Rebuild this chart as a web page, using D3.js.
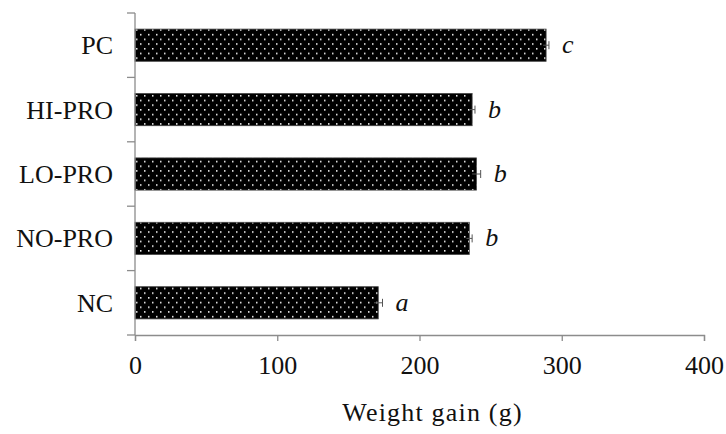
<!DOCTYPE html>
<html>
<head>
<meta charset="utf-8">
<script src="https://cdn.jsdelivr.net/npm/d3@7/dist/d3.min.js"></script>
<style>
  html, body { margin: 0; padding: 0; background: #fff; }
  svg { display: block; font-family: "Liberation Serif", "Times New Roman", serif; }
</style>
</head>
<body>
<svg id="chart" width="726" height="434"></svg>
<script>
// Treatment groups, top to bottom
const groups = ["PC", "HI-PRO", "LO-PRO", "NO-PRO", "NC"];
// Mean weight gain (g)
const gain = [289, 237, 240, 235, 171];
// Standard error of the mean (g)
const sem = [2, 2, 3, 2, 3];
// Significance letters
const letters = ["c", "b", "b", "b", "a"];
// X axis ticks
const xTicks = [0, 100, 200, 300, 400];

const svg = d3.select("#chart");
const plotLeft = 135, plotRight = 704, plotTop = 13, plotBottom = 335;

const x = d3.scaleLinear().domain([0, 400]).range([plotLeft, plotRight]);
const y = d3.scaleBand().domain(groups).range([plotTop, plotBottom]).paddingInner(0.5).paddingOuter(0.25);

// Dotted fill for the bars: black ground with staggered white dots
const defs = svg.append("defs");
const pat = defs.append("pattern")
  .attr("id", "dots")
  .attr("patternUnits", "userSpaceOnUse")
  .attr("width", 8).attr("height", 9.4)
  .attr("x", plotLeft).attr("y", 0);
pat.append("rect").attr("width", 8).attr("height", 9.4).attr("fill", "#000");
pat.append("rect").attr("x", 1).attr("y", 1).attr("width", 1.5).attr("height", 1.5).attr("fill", "#fff");
pat.append("rect").attr("x", 5).attr("y", 5.7).attr("width", 1.5).attr("height", 1.5).attr("fill", "#fff");

const axisColor = "#8c8c8c";

// Bars
svg.append("g").selectAll("rect")
  .data(groups)
  .join("rect")
  .attr("x", x(0))
  .attr("y", d => y(d))
  .attr("width", (d, i) => x(gain[i]) - x(0))
  .attr("height", y.bandwidth())
  .attr("fill", "url(#dots)")
  .attr("stroke", "#444")
  .attr("stroke-width", 0.8);

// Error bars
const eb = svg.append("g").attr("stroke", "#555").attr("stroke-width", 1);
groups.forEach((g, i) => {
  const cy = y(g) + y.bandwidth() / 2;
  eb.append("line").attr("x1", x(gain[i] - sem[i])).attr("x2", x(gain[i] + sem[i])).attr("y1", cy).attr("y2", cy);
  eb.append("line").attr("x1", x(gain[i] + sem[i])).attr("x2", x(gain[i] + sem[i])).attr("y1", cy - 4).attr("y2", cy + 4);
});

// Significance letters
svg.append("g").selectAll("text")
  .data(groups)
  .join("text")
  .attr("x", (d, i) => x(gain[i] + sem[i]) + 13)
  .attr("y", d => y(d) + y.bandwidth() / 2 + 8)
  .attr("font-size", 26)
  .attr("font-style", "italic")
  .attr("fill", "#111")
  .text((d, i) => letters[i]);

// Y axis (category boundaries as ticks)
const yAxis = svg.append("g");
yAxis.append("line").attr("x1", plotLeft).attr("x2", plotLeft).attr("y1", plotTop).attr("y2", plotBottom)
  .attr("stroke", axisColor).attr("stroke-width", 1.3);
d3.range(groups.length + 1).forEach(k => {
  const yy = plotTop + k * (plotBottom - plotTop) / groups.length;
  yAxis.append("line").attr("x1", plotLeft - 8).attr("x2", plotLeft).attr("y1", yy).attr("y2", yy)
    .attr("stroke", axisColor).attr("stroke-width", 1.3);
});
yAxis.selectAll("text")
  .data(groups)
  .join("text")
  .attr("x", plotLeft - 22)
  .attr("y", d => y(d) + y.bandwidth() / 2 + 9)
  .attr("text-anchor", "end")
  .attr("font-size", 26)
  .attr("fill", "#111")
  .text(d => d);

// X axis
const xAxis = svg.append("g").attr("transform", `translate(0,${plotBottom})`)
  .call(d3.axisBottom(x).tickValues(xTicks).tickSize(6).tickPadding(15).tickFormat(d3.format("d")));
xAxis.select(".domain").attr("stroke", axisColor).attr("stroke-width", 1.3);
xAxis.selectAll(".tick line").attr("stroke", axisColor).attr("stroke-width", 1.3);
xAxis.selectAll(".tick text")
  .attr("font-size", 26)
  .attr("font-family", "Liberation Serif, Times New Roman, serif")
  .attr("fill", "#111");

// X axis title
svg.append("text")
  .attr("x", (plotLeft + plotRight) / 2 + 13)
  .attr("y", 421)
  .attr("text-anchor", "middle")
  .attr("font-size", 26)
  .attr("letter-spacing", 1.2)
  .attr("fill", "#111")
  .text("Weight gain (g)");
</script>
</body>
</html>
